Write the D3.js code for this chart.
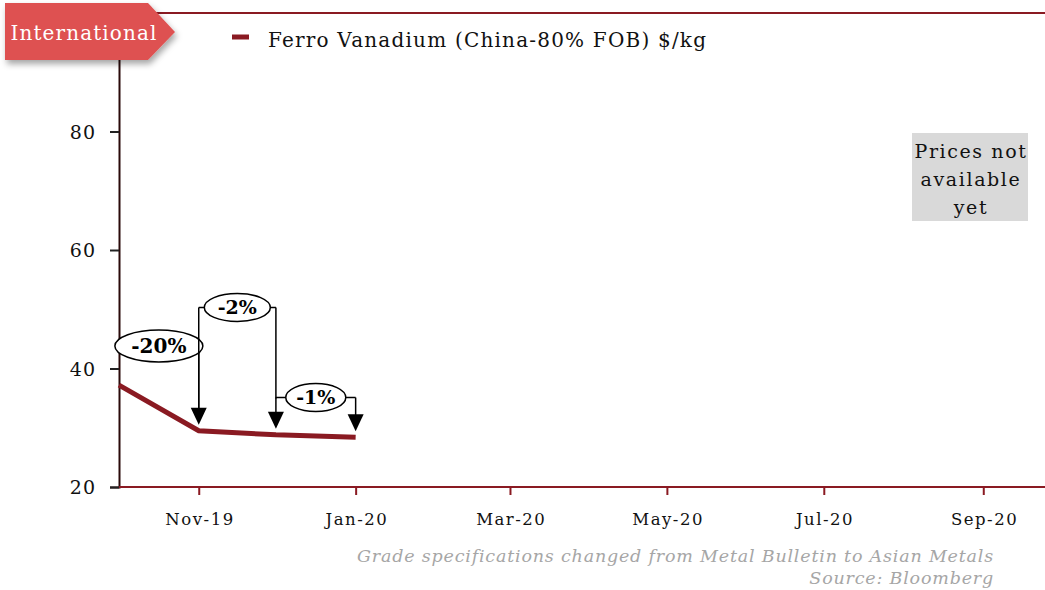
<!DOCTYPE html>
<html><head><meta charset="utf-8">
<script src="https://cdn.jsdelivr.net/npm/d3@7/dist/d3.min.js"></script>
<style>body{margin:0;background:#fff}svg{display:block}</style>
</head><body>
<svg id="c" width="1045" height="590"></svg>
<script>
const months = ["2019-10-01","2019-11-01","2019-12-01","2020-01-01"];
const values = [37.2, 29.5, 28.8, 28.4];
const seriesName = "Ferro Vanadium (China-80% FOB) $/kg";
const yTicks = [20, 40, 60, 80];
const xTickDates = ["2019-11-01","2020-01-01","2020-03-01","2020-05-01","2020-07-01","2020-09-01"];
const changeLabels = ["-20%", "-2%", "-1%"];
const changeLevels = [43.8, 50.3, 35.1];
const noteLines = ["Prices not", "available", "yet"];
const footLines = ["Grade specifications changed from Metal Bulletin to Asian Metals", "Source: Bloomberg"];

const parse = d3.timeParse("%Y-%m-%d");
const fmt = d3.timeFormat("%b-%y");
const svg = d3.select("#c");
const serif = "'DejaVu Serif', Georgia, serif";
const red = "#8a1a22";

const x = d3.scaleTime().domain([parse("2019-10-01"), parse("2020-09-25")]).range([119, 1045]);
const y = d3.scaleLinear().domain([20, 100]).range([487, 13]);

// top border
svg.append("line").attr("x1", 150).attr("x2", 1045).attr("y1", 13).attr("y2", 13)
  .attr("stroke", red).attr("stroke-width", 2);

// y axis
const ya = svg.append("g").attr("transform", "translate(119,0)")
  .call(d3.axisLeft(y).tickValues(yTicks).tickSize(9).tickPadding(14).tickFormat(d3.format("d")));
ya.select(".domain").attr("stroke", "#2a0a0a").attr("stroke-width", 2);
ya.selectAll(".tick line").attr("stroke", "#222").attr("stroke-width", 2);
ya.selectAll(".tick text").attr("font-family", serif).attr("font-size", 19).attr("fill", "#111")
  .attr("letter-spacing", 1).attr("dy", "0.35em");

// x axis
const xa = svg.append("g").attr("transform", "translate(0,487)")
  .call(d3.axisBottom(x).tickValues(xTickDates.map(parse)).tickSize(8).tickPadding(18).tickFormat(fmt));
xa.select(".domain").attr("stroke", red).attr("stroke-width", 2).attr("d", "M119,0H1045");
xa.selectAll(".tick line").attr("stroke", red).attr("stroke-width", 2);
xa.selectAll(".tick text").attr("font-family", serif).attr("font-size", 16.5).attr("fill", "#111")
  .attr("letter-spacing", 1.5).attr("dx", 0.75);

// series line
const data = months.map((m, i) => ({d: parse(m), v: values[i]}));
svg.append("path").datum(data)
  .attr("d", d3.line().x(d => x(d.d)).y(d => y(d.v)))
  .attr("fill", "none").attr("stroke", red).attr("stroke-width", 5);

// annotations
const ann = svg.append("g");
function arrow(px, tipY) {
  ann.append("path").attr("d", `M${px-8},${tipY-17}L${px+8},${tipY-17}L${px},${tipY}Z`).attr("fill", "#000");
}
for (let i = 0; i < 3; i++) {
  const a = data[i], b = data[i+1];
  const xa0 = x(a.d), xb = x(b.d), ly = y(changeLevels[i]);
  const tipA = y(a.v) - 6, tipB = y(b.v) - 6;
  if (i > 0) ann.append("line").attr("x1", xa0).attr("x2", xa0).attr("y1", ly).attr("y2", i === 1 ? tipA - 12 : ly + 1).attr("stroke", "#000").attr("stroke-width", 1.5);
  ann.append("line").attr("x1", xa0).attr("x2", xb).attr("y1", ly).attr("y2", ly).attr("stroke", "#000").attr("stroke-width", 1.5);
  ann.append("line").attr("x1", xb).attr("x2", xb).attr("y1", ly).attr("y2", tipB - 12).attr("stroke", "#000").attr("stroke-width", 1.5);
  arrow(xb, tipB);
  const cx = (xa0 + xb) / 2;
  const rx = i === 0 ? 44 : (i === 1 ? 33 : 30);
  ann.append("ellipse").attr("cx", cx).attr("cy", ly).attr("rx", rx).attr("ry", i === 0 ? 16 : 14)
    .attr("fill", "#fff").attr("stroke", "#000").attr("stroke-width", 1.5);
  ann.append("text").attr("x", cx).attr("y", ly).attr("dy", "0.36em").attr("text-anchor", "middle")
    .attr("font-family", serif).attr("font-weight", "bold").attr("font-size", i === 0 ? 20 : 19).text(changeLabels[i]);
}

// International tag
const defs = svg.append("defs");
const f = defs.append("filter").attr("id", "sh").attr("x", "-20%").attr("y", "-20%").attr("width", "140%").attr("height", "160%");
f.append("feDropShadow").attr("dx", 2).attr("dy", 4).attr("stdDeviation", 3).attr("flood-color", "#000").attr("flood-opacity", 0.35);
svg.append("path").attr("d", "M5,3H148L175,32L148,60H5Z").attr("fill", "#de5151").attr("filter", "url(#sh)");
svg.append("text").attr("x", 84).attr("y", 33).attr("dy", "0.35em").attr("text-anchor", "middle")
  .attr("font-family", serif).attr("font-size", 20).attr("letter-spacing", 1.1).attr("fill", "#fff").text("International");

// legend
svg.append("line").attr("x1", 232).attr("x2", 249).attr("y1", 37).attr("y2", 37).attr("stroke", red).attr("stroke-width", 5);
svg.append("text").attr("x", 268).attr("y", 40).attr("dy", "0.35em").attr("font-family", serif)
  .attr("font-size", 20).attr("letter-spacing", 1.2).attr("fill", "#111").text(seriesName);

// note box
svg.append("rect").attr("x", 912).attr("y", 133).attr("width", 116).attr("height", 88).attr("fill", "#d9d9d9");
svg.append("text").attr("font-family", serif).attr("font-size", 19).attr("letter-spacing", 1.6).attr("fill", "#111").attr("text-anchor", "middle")
  .selectAll("tspan").data(noteLines).join("tspan").attr("x", 971).attr("y", (d, i) => 158 + i * 28).text(d => d);

// footnotes
svg.append("text").attr("font-family", serif).attr("font-style", "italic").attr("font-size", 17.5).attr("letter-spacing", 0.8).attr("fill", "#a6a6a6")
  .attr("text-anchor", "end")
  .selectAll("tspan").data(footLines).join("tspan").attr("x", 994).attr("y", (d, i) => 562 + i * 22).text(d => d);
</script>
</body></html>
